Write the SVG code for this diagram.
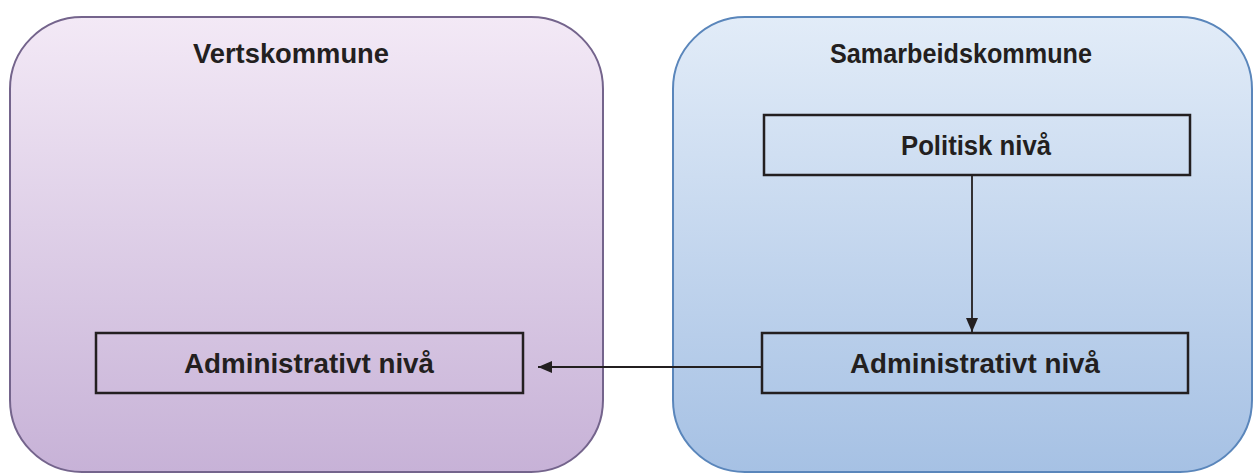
<svg xmlns="http://www.w3.org/2000/svg" width="1258" height="475" viewBox="0 0 1258 475">
  <defs>
    <linearGradient id="gPurple" x1="0" y1="0" x2="0" y2="1">
      <stop offset="0" stop-color="#f3e9f6"/>
      <stop offset="1" stop-color="#c7b2d7"/>
    </linearGradient>
    <linearGradient id="gBlue" x1="0" y1="0" x2="0" y2="1">
      <stop offset="0" stop-color="#e2ecf8"/>
      <stop offset="1" stop-color="#a6c1e4"/>
    </linearGradient>
    <marker id="arrow" viewBox="0 0 14 12" refX="14" refY="6" markerWidth="14" markerHeight="12" markerUnits="userSpaceOnUse" orient="auto">
      <path d="M0,0 L14,6 L0,12 Z" fill="#231f20"/>
    </marker>
  </defs>
  <style>
    .label { font-family: "Liberation Sans", Arial, sans-serif; font-weight: bold; font-size: 27px; fill: #231f20; text-anchor: middle; }
    .box { fill: none; stroke: #231f20; stroke-width: 2.5; }
    .conn { stroke: #231f20; stroke-width: 1.8; fill: none; }
  </style>

  <g id="vertskommune">
    <rect x="10" y="17" width="593" height="455" rx="72" ry="72" fill="url(#gPurple)" stroke="#74648c" stroke-width="2"/>
    <text class="label" x="291" y="63" textLength="196" lengthAdjust="spacingAndGlyphs">Vertskommune</text>
  </g>

  <g id="samarbeidskommune">
    <rect x="673" y="17" width="579" height="455" rx="72" ry="72" fill="url(#gBlue)" stroke="#5a86bb" stroke-width="2"/>
    <text class="label" x="961" y="63" textLength="262" lengthAdjust="spacingAndGlyphs">Samarbeidskommune</text>
  </g>

  <g id="politisk-niva">
    <rect class="box" x="764" y="115" width="426" height="60"/>
    <text class="label" x="976" y="155" textLength="150" lengthAdjust="spacingAndGlyphs">Politisk nivå</text>
  </g>

  <g id="admin-samarbeid">
    <rect class="box" x="762" y="333" width="426" height="60"/>
    <text class="label" x="975" y="373" textLength="250" lengthAdjust="spacingAndGlyphs">Administrativt nivå</text>
  </g>

  <g id="admin-verts">
    <rect class="box" x="96" y="333" width="427" height="60"/>
    <text class="label" x="309" y="373" textLength="250" lengthAdjust="spacingAndGlyphs">Administrativt nivå</text>
  </g>

  <g id="connectors">
    <line class="conn" x1="972" y1="175" x2="972" y2="332" marker-end="url(#arrow)"/>
    <line class="conn" x1="762" y1="367" x2="538" y2="367" marker-end="url(#arrow)"/>
  </g>
</svg>
